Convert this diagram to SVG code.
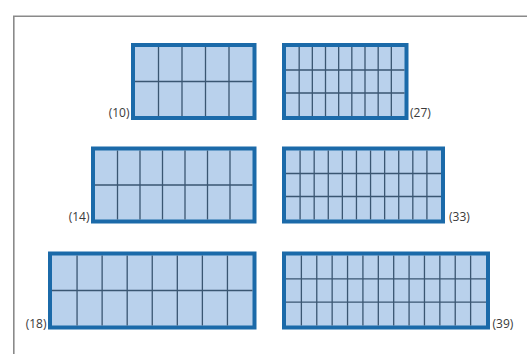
<svg xmlns="http://www.w3.org/2000/svg" width="527" height="354" viewBox="0 0 527 354">
<style>
.frame{fill:none;stroke:#8a8a8a;stroke-width:1.6}
.outer{fill:#1b6aa9}
.inner{fill:#b9d1ec}
.grid{fill:none;stroke:#3a5672;stroke-width:1.3}
.lbl{font-family:"Open Sans","Liberation Sans",Arial,sans-serif;font-size:12px;fill:#3a3a3a}
.end{text-anchor:end}
</style>
<rect width="527" height="354" fill="#ffffff"/>
<path class="frame" d="M13.8,354 V16.3 H527"/>
<g id="tray-10">
<rect class="outer" x="131" y="43" width="125.5" height="77"/>
<rect class="inner" x="135" y="47" width="117.5" height="69"/>
<path class="grid" d="M158.5,47V116M182,47V116M205.5,47V116M229,47V116M135,81.5H252.5"/>
<text class="lbl end" x="129.5" y="117">(10)</text>
</g>
<g id="tray-27">
<rect class="outer" x="282" y="43" width="126.5" height="77"/>
<rect class="inner" x="286" y="47" width="118.5" height="69"/>
<path class="grid" d="M299.17,47V116M312.33,47V116M325.5,47V116M338.67,47V116M351.83,47V116M365,47V116M378.17,47V116M391.33,47V116M286,70H404.5M286,93H404.5"/>
<text class="lbl" x="410" y="117">(27)</text>
</g>
<g id="tray-14">
<rect class="outer" x="91" y="146.5" width="165.5" height="77"/>
<rect class="inner" x="95" y="150.5" width="157.5" height="69"/>
<path class="grid" d="M117.5,150.5V219.5M140,150.5V219.5M162.5,150.5V219.5M185,150.5V219.5M207.5,150.5V219.5M230,150.5V219.5M95,185H252.5"/>
<text class="lbl end" x="89.5" y="220.5">(14)</text>
</g>
<g id="tray-33">
<rect class="outer" x="282" y="146.5" width="163" height="77"/>
<rect class="inner" x="286" y="150.5" width="155" height="69"/>
<path class="grid" d="M300.09,150.5V219.5M314.18,150.5V219.5M328.27,150.5V219.5M342.36,150.5V219.5M356.45,150.5V219.5M370.55,150.5V219.5M384.64,150.5V219.5M398.73,150.5V219.5M412.82,150.5V219.5M426.91,150.5V219.5M286,173.5H441M286,196.5H441"/>
<text class="lbl" x="449" y="221">(33)</text>
</g>
<g id="tray-18">
<rect class="outer" x="48" y="251.5" width="208.5" height="78"/>
<rect class="inner" x="52" y="255.5" width="200.5" height="70"/>
<path class="grid" d="M77.06,255.5V325.5M102.13,255.5V325.5M127.19,255.5V325.5M152.25,255.5V325.5M177.31,255.5V325.5M202.38,255.5V325.5M227.44,255.5V325.5M52,290.5H252.5"/>
<text class="lbl end" x="46.5" y="327.5">(18)</text>
</g>
<g id="tray-39">
<rect class="outer" x="282" y="251.5" width="208" height="78"/>
<rect class="inner" x="286" y="255.5" width="200" height="70"/>
<path class="grid" d="M301.38,255.5V325.5M316.77,255.5V325.5M332.15,255.5V325.5M347.54,255.5V325.5M362.92,255.5V325.5M378.31,255.5V325.5M393.69,255.5V325.5M409.08,255.5V325.5M424.46,255.5V325.5M439.85,255.5V325.5M455.23,255.5V325.5M470.62,255.5V325.5M286,278.83H486M286,302.17H486"/>
<text class="lbl" x="492.5" y="327.5">(39)</text>
</g>
<g id="connectors"/>
</svg>
